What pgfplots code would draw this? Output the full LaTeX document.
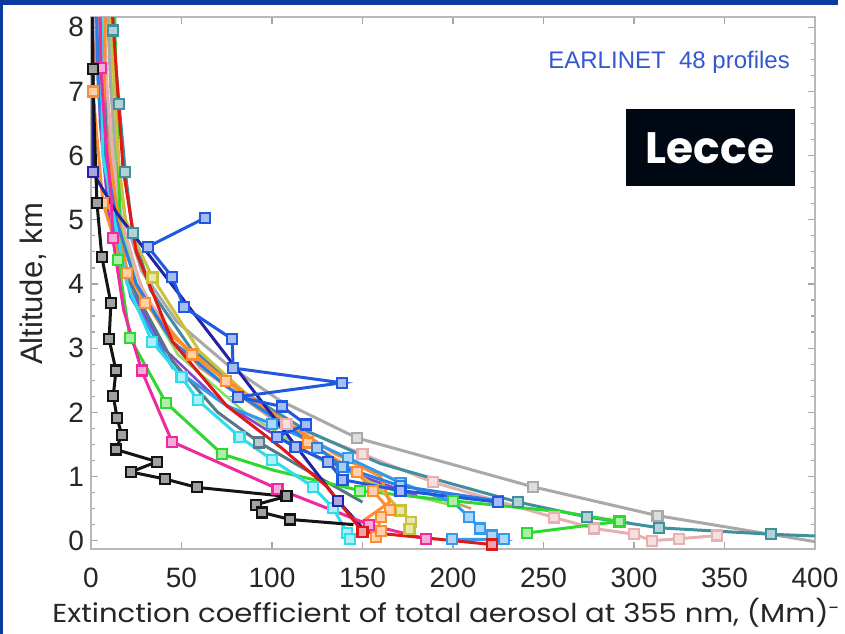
\documentclass[border=0pt]{standalone}
\usepackage{fontspec}
\setmainfont{Liberation Sans}
\newfontfamily\poppins{Poppins}
\newfontfamily\poppinswide{Poppins}[FakeStretch=1.12]
\usepackage{pgfplots}
\pgfplotsset{compat=1.18}

\definecolor{frameblue}{HTML}{0B3AA0}
\definecolor{earlblue}{HTML}{3558D0}
\definecolor{lecbg}{HTML}{000814}
\definecolor{cGray}{HTML}{A9A9A9}
\definecolor{cPink}{HTML}{E6B0B0}
\definecolor{cTeal}{HTML}{3F8F9C}
\definecolor{cGreen}{HTML}{2ED82E}
\definecolor{cOlive}{HTML}{C9C23A}
\definecolor{cOrange}{HTML}{FF8C2E}
\definecolor{cSky}{HTML}{3399EE}
\definecolor{cCyan}{HTML}{2FDCEA}
\definecolor{cNavy}{HTML}{2323A5}
\definecolor{cRoyal}{HTML}{2158E0}
\definecolor{cSteel}{HTML}{2A7FE0}
\definecolor{cMagenta}{HTML}{EE2A9E}
\definecolor{cRed}{HTML}{E01818}
\definecolor{cBlack}{HTML}{141414}
\definecolor{cTan}{HTML}{C8A070}
\definecolor{cLime}{HTML}{88DD66}
\definecolor{cViolet}{HTML}{8844CC}
\definecolor{cSlate}{HTML}{557788}

\pgfplotsset{
  prof/.style={color=#1, line width=1.5bp, mark=square*, mark size=2.5bp,
    mark options={solid, fill=#1!40!white, draw=#1, line width=1.1bp}},
  bare/.style={color=#1, line width=1.3bp, no marks},
}

\begin{document}
\begin{tikzpicture}
\useasboundingbox (0,0) rectangle (422.5bp,317bp);
\fill[white] (0,0) rectangle (422.5bp,317bp);
\begin{axis}[
  at={(45.5bp,42.5bp)}, anchor=south west,
  scale only axis, width=362bp, height=266bp,
  xmin=0, xmax=400, ymin=-0.13, ymax=8.16,
  xtick={0,50,...,400}, ytick={0,1,...,8},
  minor y tick num=3,
  tick align=inside,
  major tick length=3.5bp, minor tick length=2bp,
  axis line style={draw=black!28, line width=0.8bp},
  every tick/.style={draw=black!35, line width=0.6bp},
  tick label style={font=\fontsize{14bp}{14bp}\selectfont, text=black!85},
  /pgf/number format/assume math mode=true,
  xticklabel style={yshift=-6bp},
]
% background profiles (mark indices count from 0)
\addplot[bare=cTan] coordinates {(6,8.3) (9,6.5) (15,5) (30,3.8) (60,2.7) (100,1.9) (140,1.3) (180,0.8) (210,0.5)};
\addplot[bare=cLime] coordinates {(10,8.3) (12,6.5) (16,5) (25,4) (48,2.9) (85,2.0) (130,1.2) (170,0.75) (200,0.55)};
\addplot[bare=cViolet] coordinates {(3,8.3) (5,6.5) (10,5) (20,4) (40,3.0) (70,2.2) (110,1.5) (150,1.0) (180,0.7)};
\addplot[prof=cSlate, mark indices={6}] coordinates {(7,8.3) (8,6.5) (12,5) (22,4) (45,2.8) (70,2.0) (93,1.53) (125,1.0) (150,0.6)};
% gray
\addplot[prof=cGray, mark indices={8,9,10}] coordinates {(9,8.3) (11,7) (14,6) (19,5) (28,4.2) (47.5,3.41) (75,2.75) (104,2.19) (147,1.6) (244,0.84) (313,0.39) (401,-0.02)};
% light pink
\addplot[prof=cPink, mark indices={7,8,9,10,11,12,13,14,15}] coordinates {(7,8.3) (9,7) (12,6) (17,5) (27,4) (45,3.1) (75,2.4) (108,1.82) (150,1.35) (189,0.91) (256,0.36) (278,0.19) (300,0.10) (310,0.0) (325,0.03) (346,0.08)};
% teal
\addplot[prof=cTeal, mark indices={1,2,3,4,11,12,13,14}] coordinates {(11.5,8.3) (12,7.95) (15.5,6.8) (19,5.74) (23,4.8) (33,3.9) (55,3.0) (85,2.3) (120,1.7) (160,1.2) (200,0.88) (236,0.6) (274,0.37) (314,0.2) (375.6,0.1) (420,0.05)};
% green
\addplot[prof=cGreen, mark indices={4,5,6,7,9,10,12,13}] coordinates {(13,8.3) (14,7) (15,6) (16,5) (15,4.37) (21.5,3.16) (41.4,2.15) (72.4,1.35) (100.5,1.1) (148.6,0.78) (200,0.62) (260,0.45) (292,0.3) (241,0.12)};
% olive
\addplot[prof=cOlive, mark indices={4,9,10,11}] coordinates {(11,8.3) (13,7) (15,6) (19,5) (34,4.1) (60,2.95) (95,2.05) (130,1.35) (160,0.8) (171,0.47) (177,0.29) (176,0.18)};
% orange
\addplot[prof=cOrange, mark indices={1,2,4,5,6,8,9,10,11,12,13}] coordinates {(4,8.3) (1,7.0) (6.6,5.26) (15,4.5) (29.8,3.7) (56,2.9) (74.6,2.49) (100,1.95) (120,1.53) (147,1.07) (156,0.77) (165,0.48) (160,0.37) (157.5,0.06)};
\addplot[prof=cOrange, mark indices={2,10}] coordinates {(8,8.3) (7,6.5) (20,4.17) (40,3.3) (70,2.6) (105,1.9) (135,1.35) (160,1.0) (165,0.6) (150,0.3) (160,0.15)};
% sky blue
\addplot[prof=cSky, mark indices={7,8,9,11,12,13,14,15}] coordinates {(5,8.3) (5,7) (8,6) (12,5) (22,3.8) (45,2.7) (75,2.1) (100,1.82) (142,1.29) (171,0.9) (200,0.6) (209,0.37) (215,0.19) (221.5,0.08) (228,0.02) (199.5,0.02)};
% steel blue
\addplot[prof=cSteel, mark indices={8,9,10,11}] coordinates {(3,8.3) (4,7) (8,6) (14,5) (25,4) (45,3.1) (75,2.4) (105,1.85) (125,1.45) (139,1.15) (171,0.85) (225,0.62)};
% cyan
\addplot[prof=cCyan, mark indices={5,6,7,8,9,10,11,12,13}] coordinates {(6,8.3) (6,7) (6.5,6) (13,5) (20,4) (33.7,3.1) (50,2.55) (59,2.19) (82,1.62) (100,1.26) (122.6,0.84) (133.7,0.51) (141.4,0.12) (143,0.03)};
% navy
\addplot[prof=cNavy, mark indices={2,4}] coordinates {(1,8.3) (1,7) (1,5.74) (14.4,5.1) (136.5,0.62) (150,0.2)};
% royal blue
\addplot[prof=cRoyal] coordinates {(63,5.03) (31.5,4.58) (44.8,4.11) (51.4,3.64) (78,3.14) (78.5,2.69) (138.7,2.46) (81,2.24) (105.5,2.09) (118.8,1.81) (102.8,1.62) (113,1.46) (131,1.23) (139,0.95) (171,0.78) (225,0.6)};
% magenta
\addplot[prof=cMagenta, mark indices={1,4,6,7,8,9,10}] coordinates {(5,8.3) (5.5,7.36) (8,6.3) (11,5.4) (12,4.72) (18,3.6) (28,2.65) (44.8,1.54) (103,0.81) (153.6,0.25) (185,0.03)};
% red
\addplot[prof=cRed, mark indices={7,8}] coordinates {(11.6,8.3) (17.7,5.8) (25,4.5) (45,3.1) (75,2.1) (105,1.45) (130,0.85) (150,0.14) (221.5,-0.06)};
% black
\addplot[prof=cBlack, mark indices={1,3,4,5,6,7,8,9,10,11,12,13,14,15,16,17,18,19}] coordinates {(0.5,8.3) (1,7.35) (2,6.3) (3.3,5.26) (6,4.42) (11,3.7) (10,3.14) (13.8,2.65) (12.3,2.26) (14.4,1.91) (17,1.65) (13.8,1.42) (36.5,1.23) (22,1.07) (41,0.96) (58.5,0.83) (108,0.69) (91,0.56) (94.5,0.44) (110,0.33) (145,0.25)};
\end{axis}

\begin{scope}[x=0.5bp,y=-0.5bp,shift={(0,317bp)}]
  % page frame
  \fill[frameblue] (0,0) rectangle (838,5);
  \fill[frameblue] (0,0) rectangle (3,634);
  % labels
  \node[anchor=west, text=black!85, inner sep=0pt] at (52,613)
    {\poppinswide\fontsize{13bp}{14bp}\selectfont Extinction coefficient of total aerosol at 355 nm, (Mm)\textsuperscript{-}};
  \node[rotate=90, text=black!85, inner sep=0pt] at (33,284)
    {\fontsize{15.5bp}{16bp}\selectfont Altitude, km};
  \node[anchor=west, text=earlblue, inner sep=0pt] at (548,62)
    {\fontsize{12bp}{13bp}\selectfont EARLINET\ \ 48 profiles};
  % station tag
  \fill[lecbg] (626,109) rectangle (795,186);
  \node[text=white, inner sep=0pt] at (710,148)
    {\poppins\bfseries\fontsize{22bp}{24bp}\selectfont Lecce};
\end{scope}
\end{tikzpicture}
\end{document}
